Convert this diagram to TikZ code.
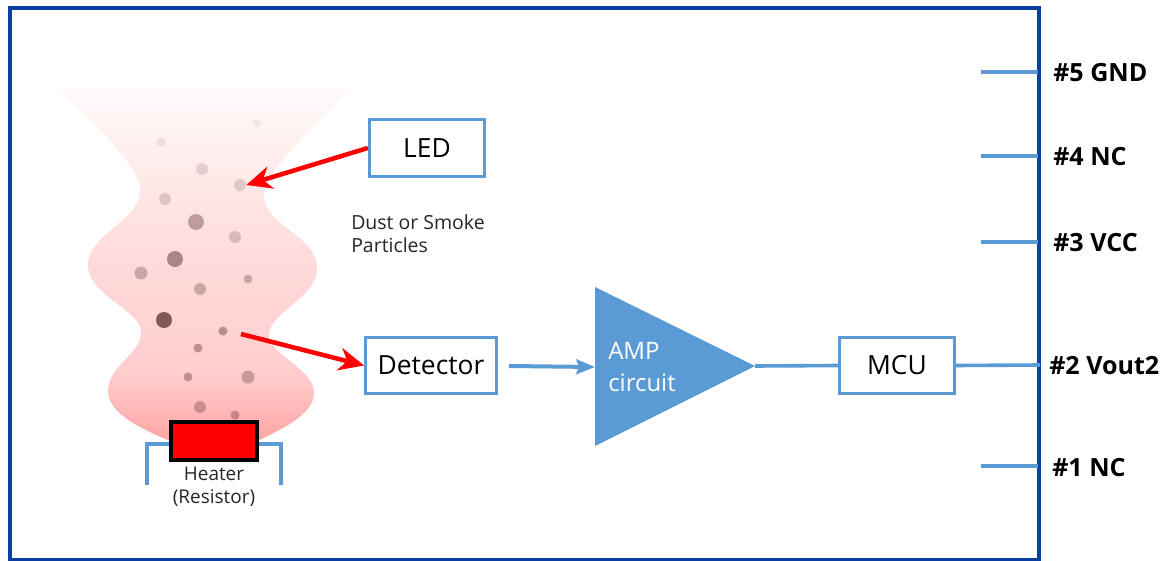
\documentclass[tikz,border=0pt]{standalone}
\usepackage{fontspec}
\setmainfont{Open Sans}
\usetikzlibrary{arrows.meta}
\definecolor{frameblue}{HTML}{0B3FA0}
\definecolor{wireblue}{HTML}{5B9BD5}
\definecolor{boxblue}{HTML}{5B9BD5}
\definecolor{dust}{HTML}{5A2F2F}
\definecolor{pa}{HTML}{FFA4A4}
\definecolor{pb}{HTML}{FFBEBE}
\definecolor{pc}{HTML}{FFCECE}
\definecolor{pd}{HTML}{FFD9D9}
\definecolor{pe}{HTML}{FFE6E6}
\definecolor{pf}{HTML}{FFF4F4}
\definecolor{pg}{HTML}{FFFBFB}
\pgfdeclareverticalshading{plume}{100bp}{
  color(0bp)=(pa);
  color(25bp)=(pa);
  color(31bp)=(pb);
  color(35bp)=(pc);
  color(49bp)=(pd);
  color(60bp)=(pe);
  color(70bp)=(pf);
  color(75bp)=(pg);
  color(100bp)=(pg)}
\tikzset{
  x=0.75pt,y=-0.75pt,
  box/.style={draw=boxblue,line width=2.2pt,fill=white,inner sep=0pt,anchor=center,text=black,font=\fontsize{19.8}{22}\selectfont},
  wire/.style={draw=wireblue,line width=2.7pt},
  redarrow/.style={draw=red,line width=3.4pt,-{Stealth[length=19pt,width=17pt,inset=6pt]}},
  pinlabel/.style={anchor=west,inner sep=0pt,font=\fontsize{18.8}{20}\selectfont\bfseries},
  small/.style={inner sep=0pt,text=black!85},
  dot/.style={circle,fill=dust,draw=none,inner sep=0pt}
}
\newcommand{\particle}[5]{\node[dot,minimum size=#3*0.75pt,fill opacity=#4] (#5) at (#1,#2) {};}
\newcommand{\boxtext}[1]{\raisebox{-0.75pt}{#1}}
\begin{document}
\begin{tikzpicture}
\useasboundingbox (0,0) rectangle (1165,561);
\fill[white] (0,0) rectangle (1165,561);
\shade[shading=plume] (55,87) -- (352,87)
  .. controls (318,124) and (264,170) .. (264,195)
  .. controls (264,226) and (317,235) .. (317,268)
  .. controls (317,298) and (269,312) .. (269,335)
  .. controls (269,355) and (314,368) .. (314,393)
  .. controls (314,415) and (280,430) .. (255,442)
  -- (172,442)
  .. controls (145,430) and (108,415) .. (108,391)
  .. controls (108,365) and (141,355) .. (141,332)
  .. controls (141,310) and (88,295) .. (88,266)
  .. controls (88,232) and (140,222) .. (140,190)
  .. controls (140,165) and (90,120) .. (55,87) -- cycle;
\particle{161}{142}{9}{0.10}{p1}
\particle{257}{123}{8}{0.07}{p2}
\particle{202}{169}{12}{0.15}{p3}
\particle{240}{185}{12}{0.17}{p4}
\particle{165}{199}{12}{0.18}{p5}
\particle{196}{222}{16}{0.38}{p6}
\particle{235}{237}{12}{0.22}{p7}
\particle{175}{259}{16}{0.50}{p8}
\particle{141}{273}{13}{0.30}{p9}
\particle{248}{279}{9}{0.30}{p10}
\particle{200}{289}{12}{0.30}{p11}
\particle{164}{320}{16}{0.75}{p12}
\particle{223}{331}{9}{0.42}{p13}
\particle{198}{348}{9}{0.40}{p14}
\particle{188}{377}{9}{0.38}{p15}
\particle{248}{377}{13}{0.32}{p16}
\particle{200}{407}{12}{0.32}{p17}
\particle{235}{415}{9}{0.35}{p18}
% frame
\draw[frameblue,line width=2.4pt] (10,8) rectangle (1039,560);
% heater
\coordinate (la) at (147,485); \coordinate (lb) at (147,444);
\coordinate (ra) at (281,485); \coordinate (rb) at (281,444);
\node[draw=black,fill=red,line width=3pt,minimum width=64pt,minimum height=28pt,inner sep=0pt] (heater) at (214,441) {};
\draw[wire] (la) -- (lb) -- (heater.west |- lb);
\draw[wire] (ra) -- (rb) -- (heater.east |- rb);
\node[small,align=center,font=\fontsize{14.2}{17.3}\selectfont] (heatertext) at (214,486.5) {Heater\\(Resistor)};
% boxes
\node[box,minimum width=86.5pt,minimum height=43pt] (led) at (427,148) {\boxtext{LED}};
\node[box,minimum width=98pt,minimum height=42pt] (det) at (431,365.5) {\boxtext{Detector}};
\node[box,minimum width=86pt,minimum height=42pt] (mcu) at (897,365.5) {\boxtext{MCU}};
\node[small,align=left,anchor=west,font=\fontsize{14.6}{17.3}\selectfont] (dusttext) at (351,234) {Dust or Smoke\\Particles};
% amp
\fill[boxblue] (595,287) -- (755,366) -- (595,446) -- cycle;
\coordinate (ampin) at (595,367);
\coordinate (ampout) at (755,366);
\node[anchor=west,align=left,inner sep=0pt,text=white,font=\fontsize{18}{23.5}\selectfont] (amptext) at (608,367) {AMP\\circuit};
% arrows
\coordinate (detout) at (509,366);
\coordinate (detsrc) at (241,334);
\draw[redarrow] (led.west) -- (p4.east);
\draw[redarrow] (detsrc) -- (det.west);
\draw[wire,line width=3pt,-{Stealth[length=14pt,width=11pt,inset=2pt]}] (detout) -- (ampin);
\draw[wire] (ampout) -- (mcu.west);
% pins
\node[pinlabel] (pin5) at (1053,73) {\#5 GND};
\node[pinlabel] (pin4) at (1053,157) {\#4 NC};
\node[pinlabel] (pin3) at (1053,243) {\#3 VCC};
\node[pinlabel] (pin2) at (1049,366) {\#2 Vout2};
\node[pinlabel] (pin1) at (1052,468) {\#1 NC};
\coordinate (s5) at (981,72); \coordinate (e5) at (1038,72);
\coordinate (s4) at (981,156); \coordinate (e4) at (1038,156);
\coordinate (s3) at (981,242); \coordinate (e3) at (1038,242);
\coordinate (s1) at (981,466); \coordinate (e1) at (1038,466);
\coordinate (e2) at (1040,365);
\draw[wire] (s5) -- (e5);
\draw[wire] (s4) -- (e4);
\draw[wire] (s3) -- (e3);
\draw[wire] (s1) -- (e1);
\draw[wire] (mcu.east) -- (e2);
\end{tikzpicture}
\end{document}
